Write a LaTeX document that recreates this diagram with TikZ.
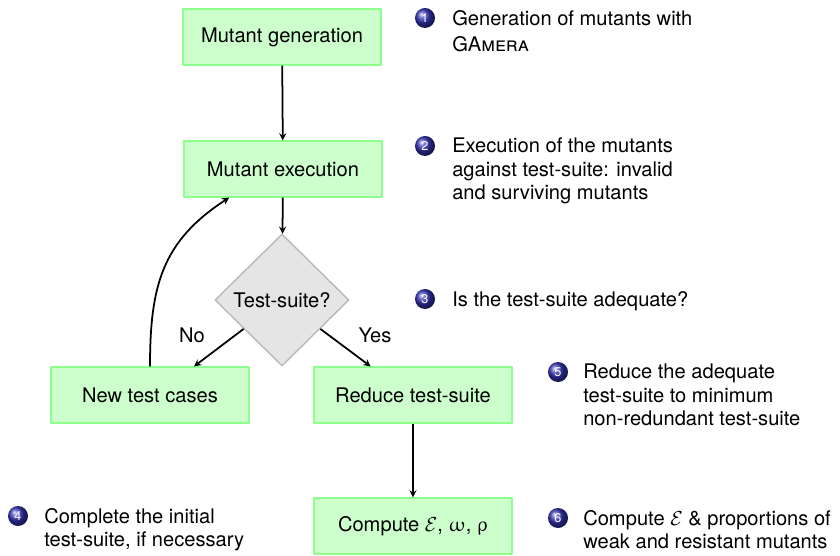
\documentclass[tikz,border=0pt]{standalone}
\usepackage{fontspec}
\setmainfont{TeX Gyre Heros}
\usepackage{upgreek}
\usetikzlibrary{shapes.geometric}
\definecolor{ballblue}{rgb}{0.2,0.2,0.7}

\begin{document}
\begin{tikzpicture}[x=0.025cm, y=-0.025cm, >=stealth, line join=round,
    font=\fontsize{14.3}{16.6}\selectfont,
    box/.style={draw=green!45, line width=1.4pt, fill=green!20, minimum width=4.95cm, minimum height=1.38cm, inner sep=0pt},
    test/.style={diamond, draw=gray!55, line width=1pt, fill=gray!20, minimum width=3.35cm, minimum height=3.3cm, inner sep=0pt},
    ball/.style={circle, shading=ball, ball color=ballblue, text=white, minimum size=0.5cm, inner sep=0pt, font=\fontsize{9}{9}\selectfont},
    note/.style={anchor=north west, align=left, inner sep=0pt},
    flow/.style={->, line width=1.25pt}]
    \useasboundingbox (0,0) rectangle (840,556);
    % flow chart
    \node[box] (gen) at (282,37) {Mutant generation};
    \node[box] (ex) at (283,169) {Mutant execution};
    \node[test] (test) at (282,300) {Test-suite?};
    \node[box] (nt) at (150,395) {New test cases};
    \node[box] (red) at (413,395) {Reduce test-suite};
    \node[box] (cmp) at (413,526) {Compute $\mathcal{E}$, $\upomega$, $\uprho$};
    \node (no) at (192,335) {No};
    \node (yes) at (375,335) {Yes};
    \draw[flow] (gen) -- (ex);
    \draw[flow] (ex) -- (test);
    \draw[flow] (test.217) -- (nt.33);
    \draw[flow] (test.323) -- (red.146);
    \draw[flow] (red) -- (cmp);
    \draw[flow] (nt.north) to[out=90, in=213, looseness=1.1] (ex.208);
    % steps
    \node[ball] (n1) at (425,18) {1};
    \node[note] (d1) at (452,10) {Generation of mutants with\\[2pt]\textsc{GAmera}};
    \node[ball] (n2) at (425,146) {2};
    \node[note] (d2) at (452,138) {Execution of the mutants\\against test-suite: invalid\\and surviving mutants};
    \node[ball] (n3) at (425,299) {3};
    \node[note] (d3) at (452,291) {Is the test-suite adequate?};
    \node[ball] (n4) at (18,516) {4};
    \node[note] (d4) at (44,508) {Complete the initial\\test-suite, if necessary};
    \node[ball] (n5) at (558,372) {5};
    \node[note] (d5) at (583,364) {Reduce the adequate\\test-suite to minimum\\non-redundant test-suite};
    \node[ball] (n6) at (558,518) {6};
    \node[note] (d6) at (583,510) {Compute $\mathcal{E}$ \& proportions of\\weak and resistant mutants};
\end{tikzpicture}
\end{document}
